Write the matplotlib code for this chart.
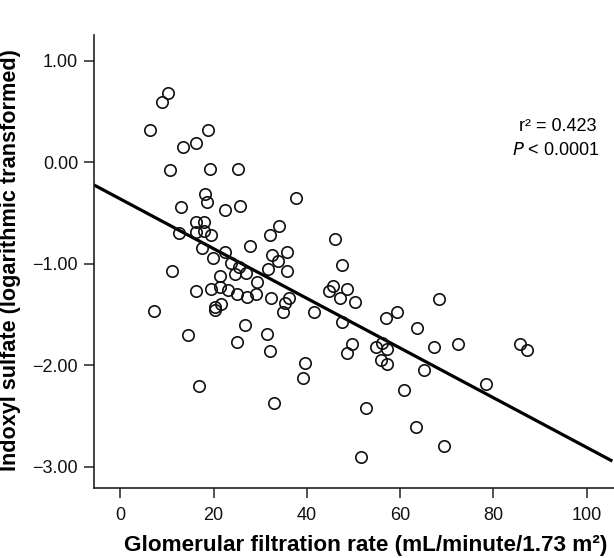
import matplotlib
matplotlib.use("Agg")
import matplotlib.pyplot as plt
import numpy as np

plt.rcParams['font.family'] = ['Liberation Sans', 'DejaVu Sans']

gfr = [10.2, 9.0, 6.3, 18.9, 13.4, 16.2, 10.7, 19.3, 25.2, 37.6,
       18.2, 18.6, 13.1, 22.5, 25.7, 16.2, 17.9, 16.2, 17.9, 19.5,
       12.6, 34.0, 32.1, 27.7, 17.5, 22.4, 35.7, 32.6, 33.8, 19.8,
       23.7, 11.1, 25.5, 31.7, 35.7, 21.4, 24.6, 27.0, 29.3, 16.2,
       19.4, 21.4, 23.0, 25.0, 27.2, 29.0, 32.3, 36.2, 35.4, 34.8,
       20.4, 21.5, 20.4, 7.2, 26.7, 14.6, 31.5, 25.1, 32.0, 16.9,
       33.0, 46.0, 47.5, 45.5, 44.8, 48.7, 47.2, 50.3, 41.6, 47.5,
       59.3, 56.9, 68.3, 63.6, 49.7, 54.8, 56.1, 67.3, 72.4, 48.5,
       57.2, 56.0, 57.2, 39.7, 39.2, 65.1, 60.8, 52.6, 63.5, 69.5,
       51.7, 85.7, 87.1, 78.4]

indoxyl = [0.687, 0.593, 0.320, 0.320, 0.155, 0.194, -0.078, -0.062, -0.065, -0.351,
           -0.315, -0.391, -0.443, -0.469, -0.430, -0.585, -0.585, -0.683, -0.674, -0.716,
           -0.699, -0.624, -0.716, -0.827, -0.847, -0.881, -0.881, -0.916, -0.969, -0.940,
           -0.989, -1.068, -1.029, -1.051, -1.068, -1.120, -1.101, -1.088, -1.177, -1.271,
           -1.251, -1.226, -1.258, -1.301, -1.330, -1.298, -1.334, -1.340, -1.390, -1.475,
           -1.423, -1.399, -1.456, -1.468, -1.604, -1.705, -1.695, -1.768, -1.857, -2.208,
           -2.373, -0.755, -1.015, -1.216, -1.268, -1.246, -1.334, -1.380, -1.475, -1.577,
           -1.475, -1.532, -1.347, -1.633, -1.788, -1.816, -1.784, -1.821, -1.791, -1.883,
           -1.843, -1.949, -1.988, -1.981, -2.123, -2.050, -2.245, -2.425, -2.612, -2.794,
           -2.902, -1.794, -1.850, -2.185]

fit_intercept = -0.361
fit_slope = -0.0245
fit_x_range = [-5.64, 105.5]

x_ticks = [0, 20, 40, 60, 80, 100]
y_ticks = [1.0, 0.0, -1.0, -2.0, -3.0]

fig = plt.figure(figsize=(6.14, 5.58), dpi=100)
ax_left, ax_bottom_px, ax_top_px = 94, 488, 35
ax = fig.add_axes([ax_left/614, 1 - ax_bottom_px/558, 1 - ax_left/614,
                   (ax_bottom_px - ax_top_px)/558])

ax.plot(gfr, indoxyl, linestyle='none', marker='o', ms=8.2, mfc='none',
        mec='#111111', mew=1.2, zorder=3)
fx = np.array(fit_x_range)
ax.plot(fx, fit_intercept + fit_slope * fx, color='black', lw=2.3, zorder=2,
        solid_capstyle='butt')

ax.set_xlim(-5.64, 105.85)
ax.set_ylim(-3.211, 1.256)
ax.set_xticks(x_ticks)
ax.set_yticks(y_ticks)
ax.set_yticklabels([f"{v:.2f}".replace('-', '\u2212') for v in y_ticks])
ax.tick_params(axis='both', direction='out', length=7.5, width=1.1,
               labelsize=13, color='#222222', labelcolor='#111111')
ax.tick_params(axis='x', pad=6)
ax.tick_params(axis='y', pad=4)

for s in ['top', 'right']:
    ax.spines[s].set_visible(False)
for s in ['left', 'bottom']:
    ax.spines[s].set_linewidth(1.2)
    ax.spines[s].set_color('#222222')

ax.set_xlabel('Glomerular filtration rate (mL/minute/1.73 m\u00b2)',
              fontsize=16.2, fontweight='bold')
ax.xaxis.set_label_coords(0.523, -0.104)
ax.set_ylabel('Indoxyl sulfate (logarithmic transformed)',
              fontsize=15.6, fontweight='bold')
ax.yaxis.set_label_coords(-0.140, 0.503)

ax.text(0.967, 0.797, 'r\u00b2 = 0.423', transform=ax.transAxes,
        ha='right', va='center', fontsize=13)
ax.text(0.972, 0.746, '$P$ < 0.0001', transform=ax.transAxes,
        ha='right', va='center', fontsize=13)

fig.savefig('out.png', dpi=100)
